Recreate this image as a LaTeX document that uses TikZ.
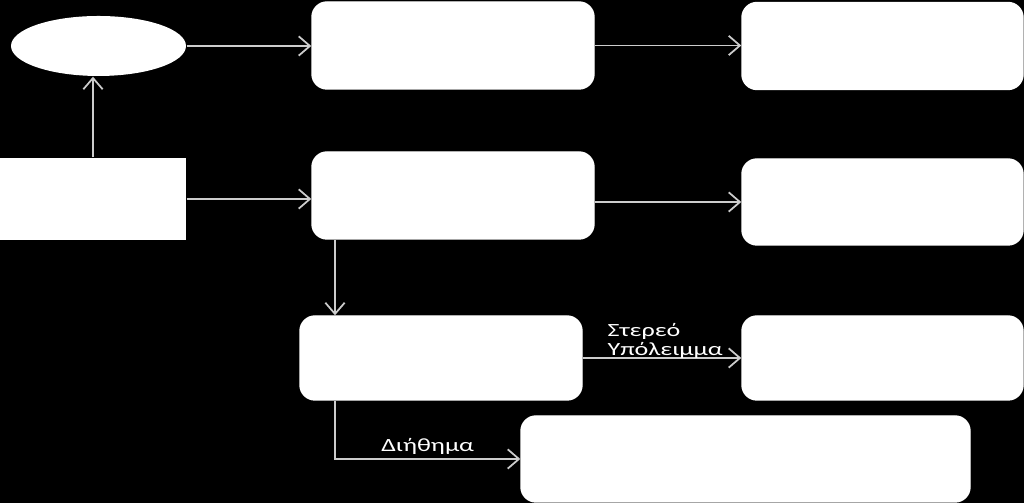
\documentclass[tikz,border=0pt]{standalone}
\usepackage{fontspec}
\setmainfont{Carlito}
\usepackage{tikz}
\usetikzlibrary{arrows.meta,shapes.geometric}

\begin{document}
\begin{tikzpicture}
    \tikzset{stage/.style = {shape=rectangle,rounded corners=0.15cm,fill=white,draw=white,inner sep=0pt}}
    \tikzset{edge/.style = {-{Straight Barb[length=3.2pt,width=5.5pt]},draw=black!20,line width=0.5pt}}
    \tikzset{lbl/.style = {text=white,font=\fontsize{5.3}{5.3}\selectfont,inner sep=1pt,xscale=1.4,transform shape}}
    % background
    \fill[black] (0,0) rectangle (10.24,5.03);
    \useasboundingbox (0,0) rectangle (10.24,5.03);
    % vertices
    \node[ellipse,fill=white,minimum width=1.75cm,minimum height=0.6cm,inner sep=0pt] (feed) at (0.985,4.57) {};
    \node[fill=white,minimum width=1.86cm,minimum height=0.82cm,inner sep=0pt] (raw) at (0.93,3.04) {};
    \node[stage,minimum width=2.82cm,minimum height=0.87cm] (A) at (4.53,4.575) {};
    \node[stage,minimum width=2.82cm,minimum height=0.87cm] (B) at (4.53,3.075) {};
    \node[stage,minimum width=2.81cm,minimum height=0.87cm] (C) at (8.825,4.57) {};
    \node[stage,minimum width=2.81cm,minimum height=0.86cm] (D) at (8.825,3.01) {};
    \node[stage,minimum width=2.82cm,minimum height=0.84cm] (E) at (4.41,1.45) {};
    \node[stage,minimum width=2.81cm,minimum height=0.84cm] (F) at (8.825,1.45) {};
    \node[stage,minimum width=4.49cm,minimum height=0.86cm] (G) at (7.455,0.44) {};
    %edges
    \draw[edge] (raw.north) to (raw.north |- feed.south);
    \draw[edge] (feed.east) to (feed.east -| A.west);
    \draw[edge] (raw.east) to (raw.east -| B.west);
    \draw[edge] (A.east) to (A.east -| C.west);
    \draw[edge] (B.east |- D.west) to (D.west);
    \draw[edge] ([xshift=-1.18cm]B.south) to ([xshift=-1.18cm]B.south |- E.north);
    \draw[edge] (E.east) -- node[lbl,above,pos=0.52,yshift=-1.3pt,align=left] {Στερεό\\Υπόλειμμα} (E.east -| F.west);
    \draw[edge] ([xshift=-1.06cm]E.south) |- node[lbl,above,pos=0.75] {Διήθημα} (G.west);
\end{tikzpicture}
\end{document}
